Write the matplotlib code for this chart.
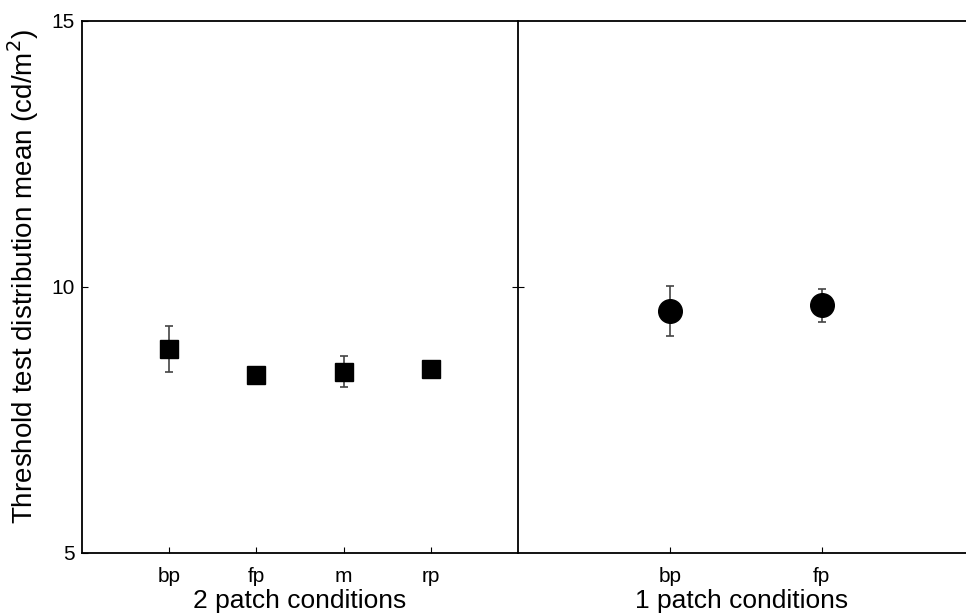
import matplotlib
matplotlib.use("Agg")
from matplotlib import pyplot as plt

plt.rcParams['font.family'] = ['Liberation Sans', 'DejaVu Sans']

# two patch conditions (squares)
two_labels = ["bp", "fp", "m", "rp"]
two_means = [8.83, 8.35, 8.41, 8.46]
two_err = [0.43, 0.08, 0.29, 0.08]

# one patch conditions (circles)
one_labels = ["bp", "fp"]
one_means = [9.54, 9.66]
one_err = [0.47, 0.31]

fig = plt.figure(figsize=(9.66, 6.16), dpi=100)
W, H = 966, 616
bottom = (H - 553) / H
height = 532 / H
ax1 = fig.add_axes([82 / W, bottom, 436 / W, height])
ax2 = fig.add_axes([518 / W, bottom, 448 / W, height])

xs1 = [i + 1 for i, _ in enumerate(two_labels)]
ax1.errorbar(xs1, two_means, yerr=two_err, fmt="s", color="black", ms=13,
             ecolor="#444444", elinewidth=1.2, capsize=3, capthick=1.2)
ax1.set_xlim(0, 5)
ax1.set_ylim(5, 15)
ax1.set_xticks(xs1)
ax1.set_xticklabels(two_labels)
ax1.set_yticks([5, 10, 15])
ax1.spines['right'].set_visible(False)
ax1.tick_params(axis="y", direction="in", length=4, labelsize=15, pad=5)
ax1.tick_params(axis="x", direction="in", length=4, labelsize=15, pad=10)
ax1.set_xlabel("2 patch conditions", fontsize=19, labelpad=2)
ax1.set_ylabel("Threshold test distribution mean (cd/m$^2$)", fontsize=20)
ax1.yaxis.set_label_coords(-0.095, 0.52)

xs2 = [i + 1 for i, _ in enumerate(one_labels)]
ax2.errorbar(xs2, one_means, yerr=one_err, fmt="o", color="black", ms=17,
             ecolor="#444444", elinewidth=1.2, capsize=3, capthick=1.2)
ax2.set_xlim(0, 2.95)
ax2.set_ylim(5, 15)
ax2.set_xticks(xs2)
ax2.set_xticklabels(one_labels)
ax2.set_yticks([10])
ax2.tick_params(axis="y", direction="inout", length=8, labelleft=False)
ax2.tick_params(axis="x", direction="in", length=4, labelsize=15, pad=10)
ax2.spines['right'].set_visible(False)
ax2.set_xlabel("1 patch conditions", fontsize=19, labelpad=2)

for ax in (ax1, ax2):
    for s in ax.spines.values():
        s.set_linewidth(1.3)

plt.savefig("out.png", dpi=100)
